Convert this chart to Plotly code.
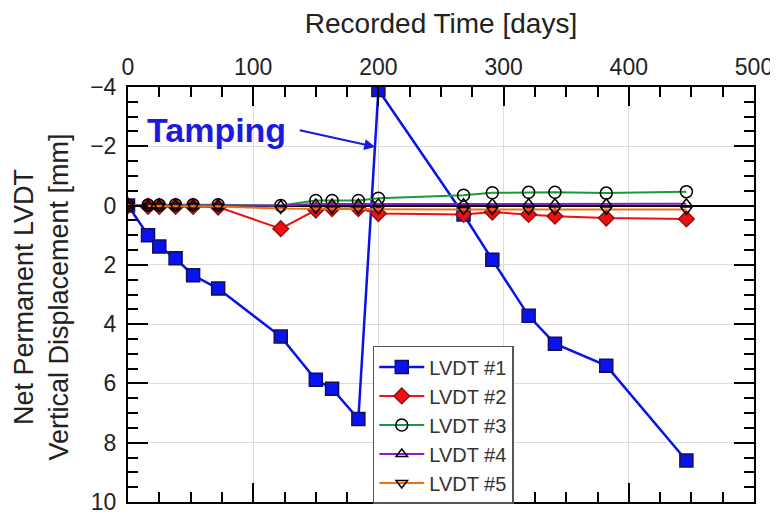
import plotly.graph_objects as go

days = [0, 16, 25, 38, 52, 72, 122, 150, 163, 184, 200, 268, 291, 320, 341, 382, 446]
lvdt1 = [0, 1.0, 1.38, 1.78, 2.35, 2.8, 4.42, 5.88, 6.18, 7.2, -3.9, 0.3, 1.83, 3.72, 4.66, 5.4, 8.6]
lvdt2 = [0, 0.03, 0.03, 0.03, 0.03, 0.05, 0.78, 0.15, 0.1, 0.1, 0.27, 0.3, 0.22, 0.3, 0.36, 0.42, 0.45]
lvdt3 = [0, -0.02, -0.02, -0.03, -0.03, -0.03, 0.0, -0.17, -0.17, -0.17, -0.25, -0.35, -0.43, -0.45, -0.45, -0.42, -0.47]
lvdt4 = [0, 0, 0, 0, 0, 0, 0, -0.05, -0.05, -0.05, -0.06, -0.06, -0.06, -0.06, -0.06, -0.06, -0.06]
lvdt5 = [0, 0.02, 0.02, 0.02, 0.02, 0.03, 0.1, 0.1, 0.1, 0.1, 0.12, 0.13, 0.13, 0.13, 0.13, 0.13, 0.13]

names = ["LVDT #1", "LVDT #2", "LVDT #3", "LVDT #4", "LVDT #5"]
series = [lvdt1, lvdt2, lvdt3, lvdt4, lvdt5]
line_colors = ["#0a12e8", "#f01010", "#1a9a3a", "#8a1ad0", "#f07010"]
symbols = ["square", "diamond", "circle-open", "triangle-up-open", "triangle-down-open"]
msizes = [13, 12, 12, 10, 10]
mfill = ["#0a12f0", "#f01010", "black", "black", "black"]
mline = ["#10105a", "#901010", "black", "black", "black"]
# axis each series is attached to (both axes share the same fixed range)
trace_xaxes = ["x", "x", "x", "x", "x3"]

fig = go.Figure()
for n, ys, lc, sym, ms, mf, ml, xa in zip(names, series, line_colors, symbols, msizes, mfill, mline, trace_xaxes):
    fig.add_trace(go.Scatter(
        x=days, y=ys, name=n, mode="lines+markers", xaxis=xa, yaxis="y",
        line=dict(color=lc, width=2.5 if n == "LVDT #1" else 2),
        marker=dict(symbol=sym, size=ms, color=mf, line=dict(color=ml, width=1.5)),
    ))

font_family = "Liberation Sans, Arial, sans-serif"
x_range = [0, 500]

fig.update_layout(
    template="none",
    width=770, height=508,
    margin=dict(l=120, r=24, t=79, b=14),
    paper_bgcolor="white", plot_bgcolor="white",
    font=dict(family=font_family, color="#222"),
    showlegend=True,
    legend=dict(
        x=0.391, y=0.376, xanchor="left", yanchor="top",
        bgcolor="white", bordercolor="#555", borderwidth=1.5,
        font=dict(size=20, color="#333"),
        tracegroupgap=0, itemwidth=45,
    ),
    xaxis=dict(
        range=x_range, side="bottom", tickmode="linear", dtick=100, tick0=0, automargin=False,
        showgrid=True, gridcolor="#dcdcdc", gridwidth=1, layer="above traces",
        showline=True, linecolor="black", linewidth=2, mirror="ticks",
        ticks="inside", ticklen=19, tickwidth=1.5, tickcolor="black",
        minor=dict(dtick=25, ticks="inside", ticklen=10, tickwidth=1.5, tickcolor="black", showgrid=False),
        showticklabels=False, zeroline=False,
    ),
    xaxis3=dict(
        range=x_range, overlaying="x", anchor="y", side="top", tickmode="linear",
        dtick=100, tick0=0, automargin=False, showgrid=False, showline=False,
        ticks="", tickfont=dict(size=23, color="#222"),
        ticklabelstandoff=6, ticklabeloverflow="allow", zeroline=False,
        title=dict(text="Recorded Time [days]", font=dict(size=28, color="#222"), standoff=12),
    ),
    yaxis=dict(
        range=[10, -4], tickmode="linear", dtick=2, tick0=0, automargin=False,
        showgrid=True, gridcolor="#dcdcdc", gridwidth=1,
        showline=True, linecolor="black", linewidth=2, mirror="ticks",
        ticks="inside", ticklen=20, tickwidth=1.5, tickcolor="black",
        minor=dict(dtick=0.5, ticks="inside", ticklen=10, tickwidth=1.5, tickcolor="black", showgrid=False),
        tickfont=dict(size=23, color="#222"),
        ticklabelstandoff=5, ticklabeloverflow="allow",
        zeroline=True, zerolinecolor="black", zerolinewidth=1.5,
    ),
)

fig.add_annotation(
    xref="paper", yref="paper", x=0, y=0.5, xanchor="center", yanchor="middle",
    xshift=-87, yshift=-3, text="Net Permanent LVDT<br>Vertical Displacement [mm]",
    textangle=-90, showarrow=False, font=dict(size=27, color="#222"),
)

fig.add_annotation(
    x=71, y=-2.55, xref="x", yref="y", text="<b>Tamping</b>", showarrow=False,
    font=dict(size=34, color="#1a1ae0", family=font_family),
)
fig.add_annotation(
    x=197.5, y=-1.98, xref="x", yref="y", ax=-77, ay=-17,
    text="", showarrow=True, arrowhead=2, arrowsize=1.1, arrowwidth=2, arrowcolor="#1a1ae0",
)

fig.write_html("out.html")
